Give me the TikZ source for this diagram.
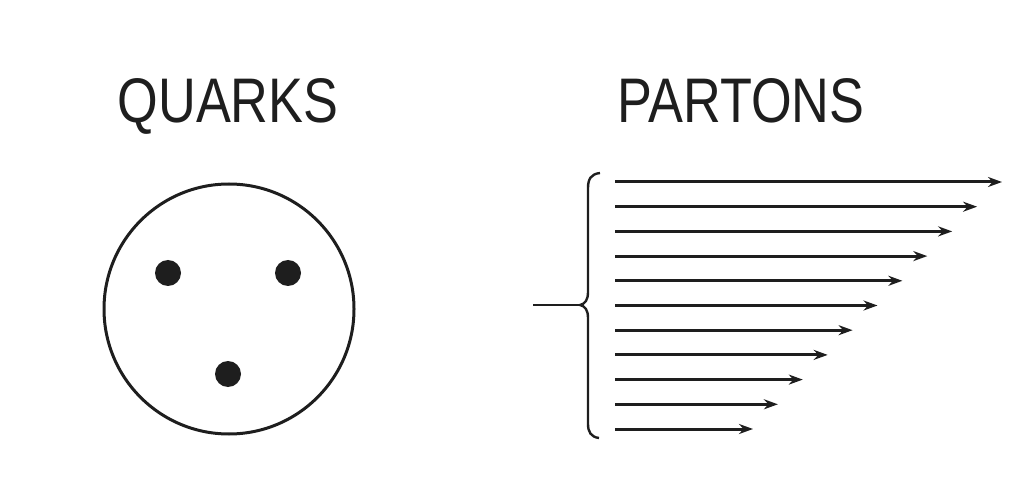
\documentclass[tikz,border=0pt]{standalone}
\usepackage{graphicx}
\usepackage{fontspec}
\setmainfont{Liberation Sans}
\usetikzlibrary{arrows.meta,positioning}
\definecolor{qpInk}{HTML}{1E1E1E}
\tikzset{
  every picture/.style={text=qpInk},
  qp title/.style={font=\fontsize{31.5}{36}\selectfont, anchor=base, inner sep=0pt},
  qp hadron/.style={circle, draw=qpInk, line width=1.5pt, minimum size=125pt, inner sep=0pt},
  qp quark/.style={circle, fill=qpInk, minimum size=13pt, inner sep=0pt},
  qp arrow/.style={-{Stealth[length=7pt,width=5pt]}, draw=qpInk, line width=1.5pt},
  qp brace/.style={draw=qpInk, line width=1.2pt}
}

\begin{document}
\begin{tikzpicture}[x=0.5pt,y=-0.5pt]
  \useasboundingbox (0,0) rectangle (1033,486);
  \node[qp title] (quarks) at (228,123) {\scalebox{0.83}[1]{QUARKS}};
  \node[qp title] (partons) at (741,123) {\scalebox{0.83}[1]{PARTONS}};
  \node[qp hadron] (hadron) at (229,309) {};
  \node[qp quark] (q1) at (168,273) {};
  \node[qp quark] (q2) at (288,273) {};
  \node[qp quark] (q3) at (228,374) {};
  \foreach \i in {0,...,10} {
    \coordinate (s\i) at (615,{182+24.7*\i});
    \coordinate (e\i) at ({1002-24.9*\i},{182+24.7*\i});
    \draw[qp arrow] (s\i) -- (e\i);
  }
  \coordinate (brace tip) at (580,305);
  \coordinate (stub) at (533,305);
  \draw[qp brace] (600,173) .. controls (591,174) and (588,179) .. (588,188) -- (588,292)
    .. controls (588,300) and (585,304) .. (brace tip)
    .. controls (585,306) and (588,310) .. (588,318) -- (588,424)
    .. controls (588,432) and (591,437) .. (599,438);
  \draw[qp brace] (stub) -- (brace tip);
\end{tikzpicture}
\end{document}
